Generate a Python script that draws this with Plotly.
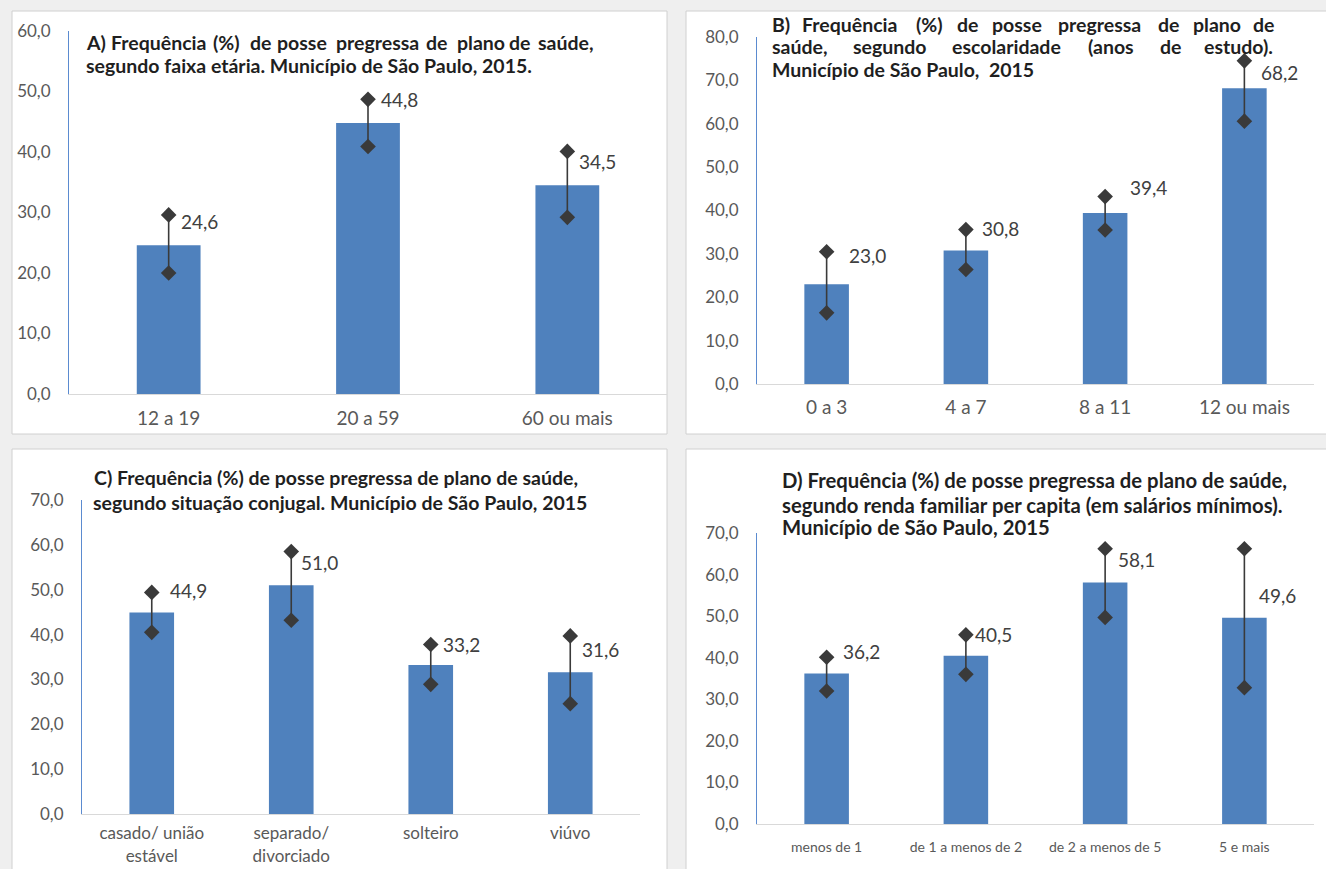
import plotly.graph_objects as go

W, H = 1326, 869

# ---------------- data ----------------
cats_a = ["12 a 19", "20 a 59", "60 ou mais"]
val_a = [24.6, 44.8, 34.5]
low_a = [20.0, 40.9, 29.2]
up_a = [29.6, 48.7, 40.1]

cats_b = ["0 a 3", "4 a 7", "8 a 11", "12 ou mais"]
val_b = [23.0, 30.8, 39.4, 68.2]
low_b = [16.4, 26.4, 35.5, 60.6]
up_b = [30.5, 35.6, 43.2, 74.5]

cats_c = ["casado/ união<br>estável", "separado/<br>divorciado", "solteiro", "viúvo"]
val_c = [44.9, 51.0, 33.2, 31.6]
low_c = [40.5, 43.2, 28.9, 24.6]
up_c = [49.4, 58.5, 37.8, 39.7]

cats_d = ["menos de 1", "de 1 a menos de 2", "de 2 a menos de 5", "5 e mais"]
val_d = [36.2, 40.5, 58.1, 49.6]
low_d = [32.0, 36.0, 49.7, 32.8]
up_d = [40.1, 45.5, 66.2, 66.2]

yticks_a = [0, 10, 20, 30, 40, 50, 60]
yticks_b = [0, 10, 20, 30, 40, 50, 60, 70, 80]
yticks_c = [0, 10, 20, 30, 40, 50, 60, 70]
yticks_d = [0, 10, 20, 30, 40, 50, 60, 70]

# label offsets (px) relative to upper CI end: (xshift, yshift)
lab_off_a = [(10, -7), (11, 0), (10, -10)]
lab_off_b = [(20, -4), (14, 1), (23, 9), (15, -12)]
lab_off_c = [(16, 2), (8, -11), (10, 0), (10, -14)]
lab_off_d = [(14, 6), (7, 0), (11, -11), (13, -47)]

# ---------------- style ----------------
FONT = "Lato"
BAR = "#4f81bd"
ERR = "#3a3a3a"
TXT = "#404040"
TICK = "#595959"
TSIZE = 19.5


def fmt(v):
    return f"{v:.1f}".replace(".", ",")


def px(x):
    return x / W


def py(y):
    return 1 - y / H


panels = [
    # cats, vals, low, up, yticks, xdom(px), ydom(px bottom, top), ymax, offsets, xfont, xstandoff
    (cats_a, val_a, low_a, up_a, yticks_a, (69, 667), (394, 31), 60, lab_off_a, 19, 7),
    (cats_b, val_b, low_b, up_b, yticks_b, (757, 1314), (384, 37), 80, lab_off_b, 19, 6),
    (cats_c, val_c, low_c, up_c, yticks_c, (82, 640), (814, 500), 70, lab_off_c, 17, 4),
    (cats_d, val_d, low_d, up_d, yticks_d, (757, 1314), (824, 533), 70, lab_off_d, 14, 10),
]

fig = go.Figure()
annotations = []
shapes = []

# panel frames
for (x0, y0, x1, y1) in [(12, 11, 667, 434), (686, 11, 1330, 434),
                         (12, 449, 667, 875), (686, 449, 1330, 875)]:
    shapes.append(dict(type="rect", xref="paper", yref="paper",
                       x0=px(x0), x1=px(x1), y0=py(y1), y1=py(y0),
                       fillcolor="white", line=dict(color="#d0d0d0", width=1),
                       layer="below"))

layout_axes = {}
for i, (cats, vals, low, up, yt, xd, yd, ymax, offs, xfs, xso) in enumerate(panels, start=1):
    xa = "x" if i == 1 else f"x{i}"
    ya = "y" if i == 1 else f"y{i}"
    fig.add_trace(go.Bar(x=cats, y=vals, xaxis=xa, yaxis=ya, width=0.32,
                         marker=dict(color=BAR, line=dict(width=0)),
                         showlegend=False, hoverinfo="skip"))
    ex, ey = [], []
    for c, lo, hi in zip(cats, low, up):
        ex += [c, c, None]
        ey += [lo, hi, None]
    fig.add_trace(go.Scatter(x=ex, y=ey, xaxis=xa, yaxis=ya, mode="lines+markers",
                             line=dict(color=ERR, width=1.6),
                             marker=dict(symbol="diamond", size=12, color=ERR),
                             showlegend=False, hoverinfo="skip", connectgaps=False,
                             cliponaxis=False))
    for c, v, hi, (dx, dy) in zip(cats, vals, up, offs):
        annotations.append(dict(x=c, y=hi, xref=xa, yref=ya, text=fmt(v),
                                showarrow=False, xanchor="left", yanchor="middle",
                                xshift=dx, yshift=dy,
                                font=dict(family=FONT, size=19, color=TXT)))
    layout_axes["xaxis" if i == 1 else f"xaxis{i}"] = dict(
        domain=[px(xd[0]), px(xd[1])], anchor=ya, type="category", automargin=False,
        showline=True, linecolor="#d9d9d9", linewidth=1, showgrid=False,
        ticks="", ticklabelstandoff=xso, tickfont=dict(family=FONT, size=xfs, color=TICK),
        fixedrange=True)
    layout_axes["yaxis" if i == 1 else f"yaxis{i}"] = dict(
        domain=[py(yd[0]), py(yd[1])], anchor=xa, range=[0, ymax], automargin=False,
        showline=True, linecolor="#5b8bd0", linewidth=1, showgrid=False, zeroline=False,
        ticks="", tickvals=yt, ticktext=[fmt(t) for t in yt], ticklabelstandoff=14,
        tickfont=dict(family=FONT, size=17, color=TICK), fixedrange=True)


def title_line(text, x, y, size=TSIZE):
    annotations.append(dict(text=f"<b>{text}</b>", x=px(x), y=py(y), xref="paper",
                            yref="paper", xanchor="left", yanchor="middle",
                            showarrow=False,
                            font=dict(family=FONT, size=size, color="#1f1f1f")))


def words_line(words, xs, y, size=TSIZE):
    for w, x in zip(words, xs):
        title_line(w, x, y, size)


# Title A
words_line(["A)", "Frequência", "(%)", "de", "posse", "pregressa", "de", "plano", "de", "saúde,"],
           [84, 109, 211, 248, 275, 334, 424, 455, 507, 536], 42)
title_line("segundo faixa etária. Município de São Paulo, 2015.", 84, 66)

# Title B
words_line(["B)", "Frequência", "(%)", "de", "posse", "pregressa", "de", "plano", "de"],
           [770, 800, 914, 955, 990, 1056, 1156, 1191, 1251], 25)
words_line(["saúde,", "segundo", "escolaridade", "(anos", "de", "estudo)."],
           [770, 851, 950, 1086, 1158, 1202], 47)
title_line("Município de São Paulo,  2015", 770, 69)

# Title C
title_line("C) Frequência (%) de posse pregressa de plano de saúde,", 92, 478)
title_line("segundo situação conjugal. Município de São Paulo, 2015", 91, 502)

# Title D
title_line("D) Frequência (%) de posse pregressa de plano de saúde,", 780, 480, 20.3)
title_line("segundo renda familiar per capita (em salários mínimos).", 780, 505, 20.3)
title_line("Município de São Paulo, 2015", 780, 527, 20.3)

fig.update_layout(width=W, height=H, margin=dict(l=0, r=0, t=0, b=0, autoexpand=False),
                  paper_bgcolor="#efefef", plot_bgcolor="rgba(0,0,0,0)",
                  bargap=0.68, annotations=annotations, shapes=shapes,
                  font=dict(family=FONT), **layout_axes)

fig.write_html("out.html", config={"displayModeBar": False})
